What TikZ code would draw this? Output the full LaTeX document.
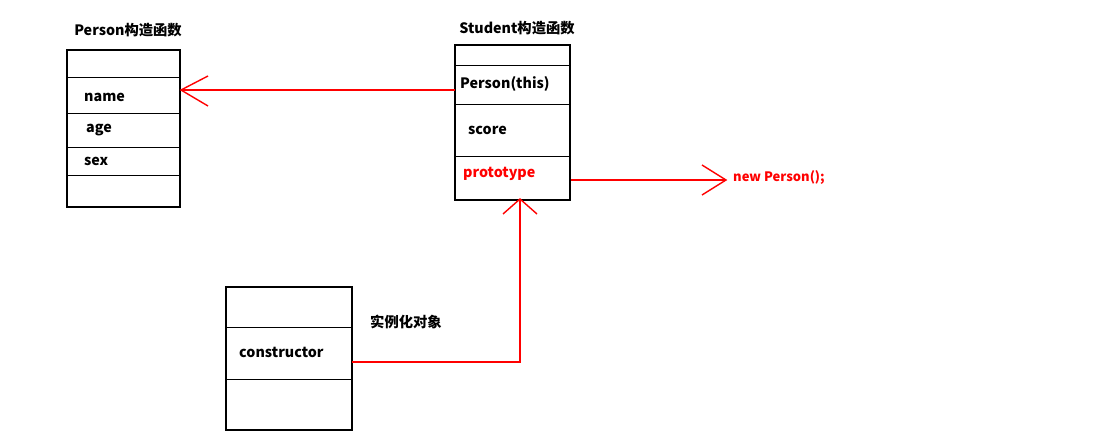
\documentclass[tikz,border=0pt]{standalone}
\usepackage{fontspec}
\setmainfont{Noto Sans CJK SC}
\begin{document}
\begin{tikzpicture}[x=1pt,y=-1pt,
  box/.style={draw=black,line width=1.6pt},
  sep/.style={draw=black,line width=0.8pt},
  lbl/.style={font=\bfseries\fontsize{14.3}{16}\selectfont,anchor=west,inner sep=0},
  rl/.style={draw=red,line width=1.4pt},
  open/.style={draw=red,line width=1.4pt}]
\useasboundingbox (0,0) rectangle (1098,446);
% Person box
\node[lbl,anchor=center] (pt) at (128,30) {Person构造函数};
\draw[box] (67,50) rectangle (180,207);
\coordinate (pR) at (181,90);
\foreach \y in {77,113,147,175} \draw[sep] (67,\y) -- (180,\y);
\node[lbl] (pn) at (84,97) {name};
\node[lbl] (pa) at (86,130) {age};
\node[lbl] (ps) at (84,161) {sex};
% Student box
\node[lbl,anchor=center] (st) at (517,28) {Student构造函数};
\draw[box] (455,45) rectangle (570,200);
\foreach \y in {65,104,156} \draw[sep] (455,\y) -- (570,\y);
\node[lbl] (sp) at (460,84) {Person(this)};
\node[lbl] (ss) at (468,130) {score};
\node[lbl,text=red] (sr) at (463,174) {prototype};
\coordinate (sL) at (455,90);
\coordinate (sR) at (571,180);
\coordinate (sB) at (520,199);
% new Person
\node[lbl,text=red,font=\bfseries\fontsize{13}{15}\selectfont] (np) at (733,178) {new Person();};
\coordinate (npL) at (726,180);
% constructor box
\draw[box] (226,287) rectangle (352,430);
\foreach \y in {327,379} \draw[sep] (226,\y) -- (352,\y);
\node[lbl] (cc) at (239,352) {constructor};
\node[lbl] (inst) at (370,322) {实例化对象};
\coordinate (cR) at (352,362);
\coordinate (corner) at (520,362);
% arrows
\draw[rl] (sL) -- (pR);
\draw[open] (208,76) -- (pR) -- (208,106);
\draw[rl] (sR) -- (npL);
\draw[open] (702,165) -- (npL) -- (702,195);
\draw[rl] (cR) -- (corner) -- (sB);
\draw[open] (503,214) -- (sB) -- (537,214);
\end{tikzpicture}
\end{document}
